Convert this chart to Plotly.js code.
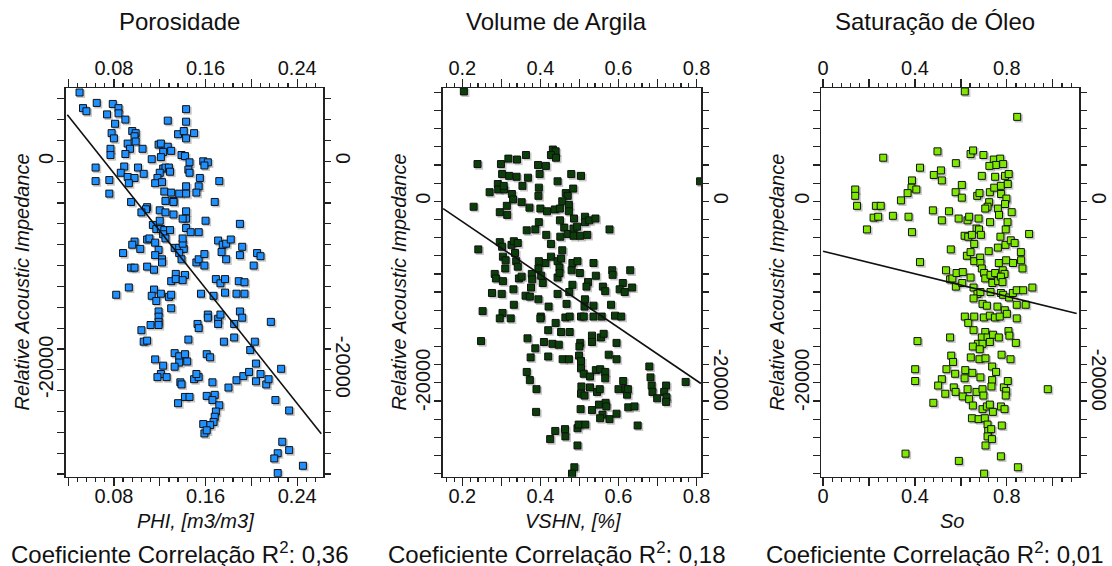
<!DOCTYPE html>
<html><head><meta charset="utf-8">
<script src="https://cdn.plot.ly/plotly-3.0.1.min.js"></script>
<style>html,body{margin:0;padding:0;background:#fff;}#chart{width:1112px;height:566px;}</style>
</head><body><div id="chart"></div>
<script>
// ---------------- DATA ----------------
const panelTitles = ["Porosidade", "Volume de Argila", "Saturação de Óleo"];
const xTitles = ["PHI, [m3/m3]", "VSHN, [%]", "So"];
const yTitle = "Relative Acoustic Impedance";
const r2Values = ["0,36", "0,18", "0,01"];

// Porosidade panel
const phiX = [0.050,0.053,0.056,0.065,0.074,0.079,0.084,0.084,0.081,0.090,
0.078,0.080,0.077,0.077,0.096,0.099,0.098,0.092,0.094,0.099,
0.105,0.090,0.064,0.064,0.076,0.076,0.089,0.086,0.092,0.098,
0.093,0.101,0.106,0.095,0.143,0.127,0.143,0.136,0.141,0.143,
0.150,0.119,0.121,0.127,0.130,0.123,0.121,0.113,0.139,0.142,
0.146,0.158,0.162,0.159,0.123,0.125,0.128,0.129,0.120,0.118,
0.116,0.122,0.145,0.146,0.155,0.154,0.143,0.172,0.124,0.130,
0.137,0.143,0.152,0.125,0.132,0.132,0.168,0.109,0.108,0.104,
0.120,0.125,0.120,0.132,0.143,0.143,0.140,0.160,0.190,0.143,
0.147,0.154,0.114,0.117,0.121,0.124,0.129,0.123,0.125,0.109,
0.111,0.116,0.098,0.096,0.103,0.088,0.119,0.116,0.122,0.122,
0.133,0.137,0.141,0.140,0.140,0.137,0.139,0.152,0.154,0.159,
0.159,0.171,0.175,0.178,0.182,0.174,0.178,0.192,0.190,0.205,
0.208,0.202,0.095,0.098,0.109,0.115,0.134,0.142,0.130,0.134,
0.140,0.169,0.173,0.177,0.189,0.194,0.082,0.093,0.115,0.113,
0.117,0.121,0.128,0.130,0.156,0.167,0.177,0.187,0.194,0.130,
0.119,0.119,0.119,0.112,0.119,0.104,0.106,0.109,0.153,0.154,
0.162,0.162,0.171,0.171,0.173,0.185,0.190,0.192,0.217,0.145,
0.176,0.185,0.203,0.199,0.116,0.123,0.133,0.137,0.137,0.133,
0.142,0.144,0.161,0.164,0.121,0.118,0.126,0.150,0.154,0.152,
0.138,0.139,0.166,0.180,0.187,0.193,0.198,0.204,0.208,0.204,
0.213,0.215,0.226,0.136,0.142,0.146,0.161,0.168,0.166,0.172,
0.169,0.168,0.167,0.164,0.158,0.159,0.161,0.221,0.233,0.227,
0.223,0.220,0.233,0.245,0.223];
const phiY = [6600,5100,4800,5600,4500,5500,5100,4600,3600,4000,
2700,2200,1200,600,2900,2700,2400,1700,1200,1900,
1200,700,-600,-1900,-1800,-3100,-500,-1100,-1500,-1600,
-2100,-600,-1200,-3900,5000,3900,3800,2600,2900,2200,
2700,1600,1700,1400,1000,900,400,200,600,500,
-100,0,-100,-400,-700,-600,-600,-1000,-1100,-1600,
-2100,-2000,-800,-1100,-1600,-2400,-2400,-1900,-2900,-3000,
-3100,-3100,-3000,-3800,-3800,-3900,-3900,-4400,-4600,-4900,
-4700,-4900,-5700,-5100,-4800,-5500,-5500,-5700,-6000,-6400,
-6800,-6800,-6100,-6500,-6500,-6600,-6600,-7000,-7400,-7500,
-7400,-7800,-7700,-8000,-8400,-8800,-8500,-9000,-9400,-9700,
-8300,-8300,-8400,-7900,-7400,-8800,-9400,-9700,-9400,-8900,
-10000,-7600,-8000,-7900,-7500,-8700,-9400,-8200,-9000,-8800,
-9100,-10000,-10200,-10200,-10100,-10400,-10800,-10900,-11500,-11300,
-11400,-11300,-11700,-11300,-11500,-11600,-12800,-12100,-12300,-12900,
-13400,-12700,-13000,-12800,-12700,-12900,-12600,-12700,-12700,-14100,
-14400,-14900,-15400,-15700,-15700,-16200,-17300,-17200,-15600,-16000,
-14700,-15000,-15100,-15600,-14700,-15600,-14400,-15000,-15400,-17100,
-17300,-16900,-17300,-18100,-19000,-19600,-18400,-18700,-19300,-19700,
-18500,-19200,-18500,-18800,-20400,-20700,-20700,-20900,-20700,-20400,
-21200,-21400,-21200,-21700,-21000,-20600,-20200,-19400,-20400,-21100,
-21400,-20900,-19900,-23200,-22600,-22600,-22500,-22400,-22900,-23400,
-24000,-24500,-25000,-25300,-25200,-26100,-25800,-22900,-23900,-26900,
-28000,-28500,-27700,-29200,-29900];
const phiFitX = [0.0393, 0.2610];
const phiFitY = [4470, -26130];

// Volume de Argila panel
const vshX = [0.204,0.809,0.239,0.229,0.241,0.248,0.252,0.270,0.299,0.318,
0.340,0.363,0.302,0.320,0.339,0.368,0.291,0.292,0.307,0.306,
0.354,0.327,0.330,0.352,0.372,0.314,0.296,0.315,0.394,0.414,
0.398,0.396,0.395,0.400,0.417,0.432,0.439,0.427,0.440,0.444,
0.479,0.504,0.484,0.465,0.470,0.456,0.473,0.437,0.450,0.473,
0.450,0.486,0.514,0.514,0.525,0.541,0.577,0.365,0.387,0.396,
0.415,0.461,0.470,0.485,0.485,0.494,0.502,0.520,0.427,0.451,
0.456,0.296,0.302,0.326,0.332,0.342,0.335,0.304,0.311,0.338,
0.342,0.310,0.283,0.286,0.304,0.345,0.352,0.331,0.276,0.301,
0.378,0.379,0.376,0.395,0.402,0.406,0.413,0.396,0.427,0.444,
0.453,0.449,0.444,0.449,0.482,0.495,0.480,0.501,0.482,0.474,
0.522,0.518,0.542,0.536,0.584,0.585,0.630,0.611,0.560,0.566,
0.603,0.616,0.635,0.362,0.373,0.395,0.444,0.467,0.421,0.514,
0.513,0.536,0.581,0.332,0.303,0.296,0.324,0.401,0.400,0.464,
0.475,0.504,0.511,0.536,0.557,0.591,0.607,0.439,0.420,0.453,
0.475,0.367,0.387,0.409,0.431,0.447,0.532,0.532,0.555,0.562,
0.502,0.500,0.499,0.504,0.504,0.511,0.457,0.473,0.420,0.375,
0.365,0.373,0.390,0.389,0.595,0.575,0.595,0.542,0.553,0.566,
0.566,0.527,0.505,0.527,0.545,0.552,0.504,0.513,0.600,0.612,
0.618,0.622,0.624,0.503,0.532,0.550,0.567,0.569,0.559,0.553,
0.577,0.595,0.625,0.641,0.649,0.679,0.682,0.685,0.687,0.699,
0.722,0.717,0.723,0.722,0.772,0.438,0.425,0.463,0.464,0.495,
0.498,0.515,0.495,0.487,0.481];
const vshY = [12100,2200,4100,-600,-5300,-15400,-12100,1000,4100,4700,
4600,5100,3000,2800,2700,2600,1900,1300,1300,1700,
1700,800,200,-100,-700,-500,-1200,-1500,4000,3900,
3000,1500,600,-800,-1100,5700,5500,5100,4800,2200,
3000,2800,1400,900,600,0,-400,-900,-800,-1100,
-2100,-1900,-1700,-2300,-2100,-1900,-3100,-3200,-3100,-2300,
-3700,-2900,-3600,-3000,-3800,-2800,-3800,-3700,-4700,-3900,
-5400,-4500,-5000,-4800,-4400,-4600,-5700,-6100,-6500,-6600,
-7200,-7400,-8000,-8500,-8800,-8500,-8300,-9700,-10100,-10200,
-8000,-8600,-9500,-7400,-8200,-9000,-6800,-6600,-6100,-6600,
-6300,-7300,-8400,-7900,-6800,-6600,-7600,-7900,-9200,-10000,
-8900,-9400,-8200,-6800,-7600,-8100,-7600,-9000,-9400,-9900,
-9700,-10000,-9500,-10400,-10500,-10800,-10200,-11300,-11600,-10800,
-11600,-11500,-11400,-11400,-12300,-12900,-12900,-12700,-12900,-12800,
-12700,-12700,-12700,-12700,-12700,-12600,-12700,-13400,-14200,-14400,
-14400,-15100,-16200,-15500,-15700,-15800,-14800,-15500,-15000,-14600,
-15600,-16000,-17000,-17600,-18400,-19000,-17400,-17400,-17100,-17200,
-18800,-19700,-20700,-23200,-15600,-16900,-17400,-18600,-18500,-18800,
-19500,-19300,-20400,-20500,-21000,-20700,-21200,-21400,-20700,-19800,
-20700,-21300,-20700,-22900,-23000,-22400,-22200,-22600,-23500,-23900,
-24000,-23400,-22700,-22600,-24700,-18200,-19400,-20300,-21000,-21700,
-20300,-21000,-21600,-22100,-19900,-25300,-26200,-25100,-25900,-25000,
-24600,-24600,-26900,-29300,-30000];
const vshFitX = [0.151, 0.811];
const vshFitY = [-800, -20070];

// Saturação de Óleo panel
const soX = [0.617,0.845,0.262,0.498,0.422,0.513,0.482,0.517,0.578,0.642,
0.653,0.698,0.743,0.771,0.752,0.784,0.724,0.691,0.749,0.792,
0.808,0.387,0.385,0.406,0.368,0.339,0.140,0.140,0.148,0.230,
0.251,0.220,0.240,0.304,0.372,0.191,0.387,0.478,0.548,0.517,
0.590,0.629,0.636,0.577,0.604,0.604,0.671,0.681,0.726,0.745,
0.774,0.804,0.775,0.798,0.723,0.716,0.706,0.761,0.766,0.792,
0.821,0.727,0.677,0.668,0.679,0.687,0.616,0.632,0.648,0.658,
0.803,0.795,0.772,0.794,0.817,0.834,0.897,0.556,0.626,0.642,
0.658,0.684,0.721,0.761,0.685,0.691,0.701,0.706,0.729,0.749,
0.782,0.790,0.765,0.797,0.827,0.861,0.862,0.868,0.422,0.535,
0.553,0.563,0.578,0.581,0.608,0.606,0.642,0.655,0.672,0.685,
0.655,0.729,0.737,0.762,0.774,0.781,0.774,0.784,0.810,0.826,
0.843,0.871,0.911,0.843,0.882,0.694,0.713,0.759,0.791,0.800,
0.617,0.632,0.658,0.700,0.726,0.748,0.769,0.843,0.655,0.706,
0.691,0.716,0.740,0.765,0.807,0.811,0.839,0.553,0.411,0.674,
0.694,0.726,0.652,0.682,0.558,0.566,0.643,0.681,0.707,0.777,
0.816,0.537,0.575,0.619,0.650,0.685,0.616,0.736,0.753,0.736,
0.401,0.401,0.517,0.501,0.532,0.569,0.577,0.608,0.629,0.636,
0.668,0.694,0.698,0.733,0.787,0.797,0.804,0.795,0.480,0.652,
0.694,0.713,0.726,0.739,0.774,0.790,0.648,0.677,0.704,0.716,
0.719,0.732,0.778,0.716,0.735,0.707,0.359,0.591,0.774,0.848,
0.701,0.978];
const soY = [12100,9300,4800,5500,3700,3400,2900,2300,4200,5200,
5600,5100,4600,4700,4000,4100,3900,2800,2700,2800,
3000,2300,1500,1300,900,100,1300,600,-500,-500,
-500,-1800,-1700,-1600,-1700,-3100,-3400,-1000,-1100,-2100,
-1900,-2100,-1700,1000,1800,400,600,900,1000,1500,
1700,1900,800,300,-100,-600,-800,-800,-1500,-300,
-1200,-2300,-1900,-3000,-3100,-3700,-3800,-3900,-3700,-4700,
-2300,-3100,-3900,-4800,-4300,-4600,-3600,-5300,-6000,-5600,
-6600,-6200,-5500,-5100,-6800,-7400,-7900,-8500,-8100,-7900,
-7600,-8000,-6800,-6500,-6800,-5600,-6500,-7400,-6700,-7600,
-8600,-8500,-9400,-7900,-7800,-9000,-8400,-9500,-10200,-10000,
-10700,-10000,-9000,-8800,-8300,-8900,-10100,-10300,-10600,-10100,
-9800,-9800,-9500,-11400,-11400,-11300,-11500,-11600,-12000,-12400,
-12700,-13400,-12700,-12800,-12600,-12800,-12700,-12900,-14200,-14400,
-15000,-15000,-14700,-15000,-14300,-14800,-15600,-15000,-15400,-15700,
-15700,-15500,-16000,-16300,-17000,-17700,-17200,-17400,-17300,-16900,
-17400,-18500,-19000,-18600,-18900,-19400,-19500,-18200,-18800,-19700,
-18500,-19800,-19600,-20300,-21200,-20500,-21000,-21500,-20700,-21800,
-21000,-20700,-21400,-20400,-20500,-20900,-19800,-21400,-22200,-22500,
-22900,-22600,-22400,-23200,-22600,-22900,-23900,-24000,-23900,-24600,
-25300,-25100,-24700,-25900,-26200,-26900,-27800,-28600,-28100,-29300,
-30000,-20700];
const soFitX = [0.0, 1.104];
const soFitY = [-5500, -12360];

// tick labels
const xTickVals = [[0.04,0.08,0.12,0.16,0.20,0.24],[0.2,0.3,0.4,0.5,0.6,0.7,0.8],[0,0.2,0.4,0.6,0.8,1.0]];
const xTickText = [["","0.08","","0.16","","0.24"],["0.2","","0.4","","0.6","","0.8"],["0","","0.4","","0.8",""]];
const yTickVals = [0, -20000];
const yTickText = ["0", "-20000"];

// ---------------- STYLE / LAYOUT ----------------
const seriesX = [phiX, vshX, soX];
const seriesY = [phiY, vshY, soY];
const fitX = [phiFitX, vshFitX, soFitX];
const fitY = [phiFitY, vshFitY, soFitY];
const colors = ["#1E90FF", "#0A3F0A", "#7FE800"];
const minorDt = [0.008, 0.02, 0.04];
const xRanges = [[0.0379,0.2628],[0.1498,0.8113],[-0.0089,1.114]];
const yRanges = [[-30250,7030],[-30340,12480],[-30340,12480]];
const W = 1112, H = 566;
const frames = [[65.7,323.3],[442.7,701],[821,1079]];
const TOP = 88, BOT = 476.7;
const FONT = "Liberation Sans, Arial, sans-serif";
const LC = "#222";
const SHADOW_PX = 1.6;

const sfx = k => (k === 1 ? "" : String(k));
const traces = [];
const layout = {
  width: W, height: H, margin: {l:0,r:0,t:0,b:0},
  paper_bgcolor: "#fff", plot_bgcolor: "rgba(0,0,0,0)", showlegend: false,
  font: {family: FONT, color: "#111"}, annotations: []
};

for (let i = 0; i < 3; i++) {
  const n = i + 1;
  // ids: main (shadow layer) n, bottom/left n+3, top/right n+6
  const xm = "x" + sfx(n), ym = "y" + sfx(n);
  const xb = "x" + (n + 3), yl = "y" + (n + 3);
  const xt = "x" + (n + 6), yr = "y" + (n + 6);
  const pxW = frames[i][1] - frames[i][0], pxH = BOT - TOP;
  const dx = SHADOW_PX * (xRanges[i][1] - xRanges[i][0]) / pxW;
  const dy = SHADOW_PX * (yRanges[i][1] - yRanges[i][0]) / pxH;

  const common = {showgrid:false, zeroline:false, ticks:"outside", tickcolor:LC, tickwidth:1.2,
    tickfont:{family:FONT,size:20,color:"#111"}, autorange:false, fixedrange:true};
  const xminor = {tickmode:"linear", tick0:0, dtick:minorDt[i], ticks:"outside", ticklen:4, tickcolor:LC, tickwidth:1.2};
  const yminor = {tickmode:"linear", tick0:0, dtick:2000, ticks:"outside", ticklen:7, tickcolor:LC, tickwidth:1.2};

  // hidden base axes carrying the soft marker shadows
  layout["xaxis" + sfx(n)] = {domain:[frames[i][0]/W, frames[i][1]/W], range:[xRanges[i][0]-dx, xRanges[i][1]-dx],
    anchor:ym, visible:false, showgrid:false, zeroline:false, autorange:false, fixedrange:true};
  layout["yaxis" + sfx(n)] = {domain:[1-BOT/H, 1-TOP/H], range:[yRanges[i][0]+dy, yRanges[i][1]+dy],
    anchor:xm, visible:false, showgrid:false, zeroline:false, autorange:false, fixedrange:true};

  layout["xaxis" + (n+3)] = Object.assign({}, common, {range:xRanges[i], overlaying:xm, anchor:ym, side:"bottom",
    tickmode:"array", tickvals:xTickVals[i], ticktext:xTickText[i], ticklen:8, ticklabelstandoff:-7,
    showline:true, mirror:true, linecolor:LC, linewidth:1.5, minor:xminor});
  layout["xaxis" + (n+6)] = Object.assign({}, common, {range:xRanges[i], overlaying:xm, anchor:ym, side:"top",
    tickmode:"array", tickvals:xTickVals[i], ticktext:xTickText[i], ticklen:8, ticklabelstandoff:-4,
    showline:false, minor:xminor});
  layout["yaxis" + (n+3)] = Object.assign({}, common, {range:yRanges[i], overlaying:ym, anchor:xm, side:"left",
    tickmode:"array", tickvals:yTickVals, ticktext:yTickText, tickangle:-90, ticklen:7, ticklabelstandoff:-4,
    showline:true, mirror:true, linecolor:LC, linewidth:1.5, minor:yminor});
  layout["yaxis" + (n+6)] = Object.assign({}, common, {range:yRanges[i], overlaying:ym, anchor:xm, side:"right",
    tickmode:"array", tickvals:yTickVals, ticktext:yTickText, tickangle:90, ticklen:7, ticklabelstandoff:-3,
    showline:false, minor:yminor});

  traces.push({type:"scatter", mode:"markers", x:seriesX[i], y:seriesY[i], xaxis:xm, yaxis:ym,
    marker:{symbol:"square", size:8, color:"rgba(0,0,0,0.22)", line:{width:0}}, hoverinfo:"skip"});
  traces.push({type:"scatter", mode:"markers", x:seriesX[i], y:seriesY[i], xaxis:xb, yaxis:yl,
    marker:{symbol:"square", size:7, color:colors[i], line:{color:"#111", width:1}}, hoverinfo:"skip"});
  traces.push({type:"scatter", mode:"lines", x:fitX[i], y:fitY[i], xaxis:xb, yaxis:yl,
    line:{color:"#111", width:1.6}, hoverinfo:"skip"});
  traces.push({type:"scatter", mode:"markers", x:[], y:[], xaxis:xt, yaxis:yr, hoverinfo:"skip"});

  const cx = (frames[i][0] + frames[i][1]) / 2;
  layout.annotations.push({xref:"paper", yref:"paper", x:(cx-15)/W, y:1-21/H, xanchor:"center", yanchor:"middle",
    text:panelTitles[i], showarrow:false, font:{family:FONT, size:24, color:"#111"}});
  layout.annotations.push({xref:"paper", yref:"paper", x:(cx+1.5)/W, y:1-521/H, xanchor:"center", yanchor:"middle",
    text:"<i>"+xTitles[i]+"</i>", showarrow:false, font:{family:FONT, size:20, color:"#111"}});
  layout.annotations.push({xref:"paper", yref:"paper", x:(frames[i][0]-43.5)/W, y:1-(TOP+BOT)/2/H, xanchor:"center", yanchor:"middle",
    text:"<i>"+yTitle+"</i>", textangle:-90, showarrow:false, font:{family:FONT, size:20, color:"#111"}});
  layout.annotations.push({xref:"paper", yref:"paper", x:(cx-15)/W, y:1-553/H, xanchor:"center", yanchor:"middle",
    text:"Coeficiente Correlação R<sup>2</sup>: "+r2Values[i], showarrow:false, font:{family:FONT, size:24, color:"#111"}});
}

Plotly.newPlot("chart", traces, layout, {staticPlot:true, displayModeBar:false});
</script></body></html>
